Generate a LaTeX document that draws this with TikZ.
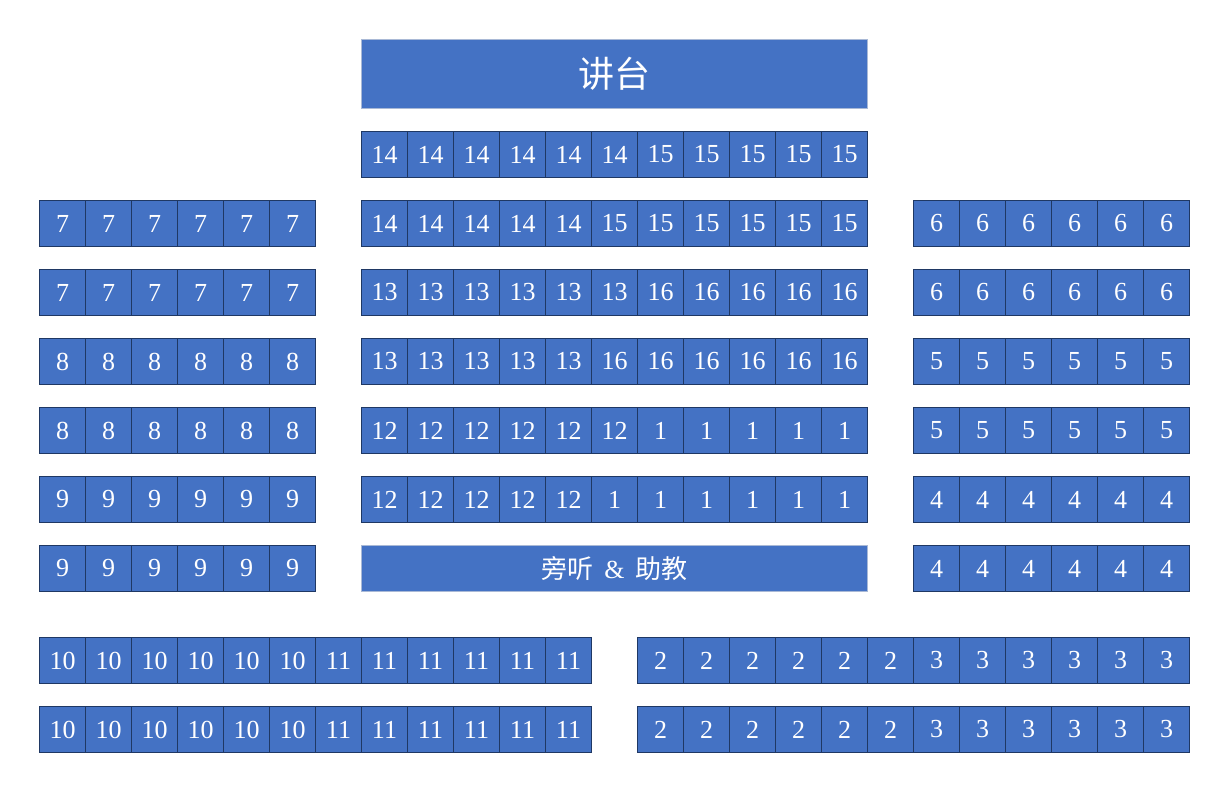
\documentclass[tikz,border=0pt]{standalone}
\usepackage{fontspec}
\setmainfont{Liberation Serif}
\newfontfamily\cjk{Noto Sans CJK SC}
\definecolor{seatfill}{HTML}{4472C4}
\definecolor{seatline}{HTML}{1F3864}
\definecolor{podline}{HTML}{A9B9D6}
\tikzset{
  seatbox/.style={rectangle, fill=seatfill, draw=seatline, line width=1pt,
    minimum width=46pt, minimum height=46pt, inner sep=0pt, text=white,
    anchor=north west, font=\fontsize{26}{26}\selectfont},
  podbox/.style={rectangle, fill=seatfill, draw=podline, line width=1pt,
    minimum width=506pt, inner sep=0pt, text=white, anchor=north west}
}
\begin{document}
\begin{tikzpicture}[x=1pt,y=-1pt]
\useasboundingbox (0,0) rectangle (1230,792);
\node[podbox, minimum height=69pt, font=\cjk\fontsize{36}{36}\selectfont] (podium) at (361,39) {讲台};
\node[podbox, minimum height=46pt, font=\cjk\fontsize{26}{26}\selectfont] (audit) at (361,545) {旁听\hspace{11pt}{\rmfamily\&}\hspace{11pt}助教};
\foreach \row/\x/\y/\a/\na/\b/\tot in {
  Ca/361/131/14/6/15/11, Cb/361/200/14/5/15/11, Cc/361/269/13/6/16/11,
  Cd/361/338/13/5/16/11, Ce/361/407/12/6/1/11, Cf/361/476/12/5/1/11,
  La/39/200/7/6/7/6, Lb/39/269/7/6/7/6, Lc/39/338/8/6/8/6,
  Ld/39/407/8/6/8/6, Le/39/476/9/6/9/6, Lf/39/545/9/6/9/6,
  Ra/913/200/6/6/6/6, Rb/913/269/6/6/6/6, Rc/913/338/5/6/5/6,
  Rd/913/407/5/6/5/6, Re/913/476/4/6/4/6, Rf/913/545/4/6/4/6,
  BLa/39/637/10/6/11/12, BLb/39/706/10/6/11/12,
  BRa/637/637/2/6/3/12, BRb/637/706/2/6/3/12}
{
  \foreach \i in {1,...,\tot}{
    \node[seatbox] (\row-\i) at ({\x+46*(\i-1)},\y) {\ifnum\i>\na\relax\b\else\a\fi};
  }
}
\end{tikzpicture}
\end{document}
